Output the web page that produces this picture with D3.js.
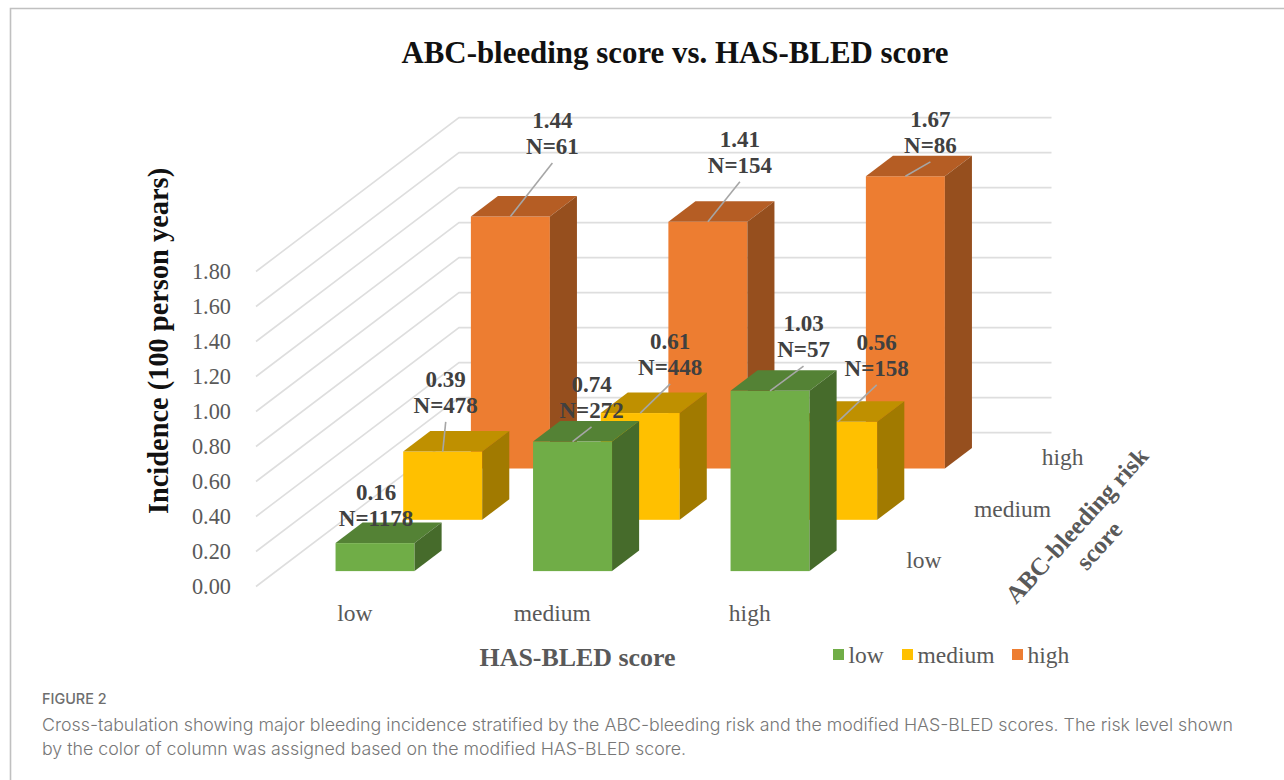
<!DOCTYPE html>
<html>
<head>
<meta charset="utf-8">
<script src="https://cdnjs.cloudflare.com/ajax/libs/d3/7.8.5/d3.min.js"></script>
<style>
  html, body { margin: 0; padding: 0; background: #fff; }
  svg { display: block; }
  text { font-family: "Liberation Serif", serif; }
  .caption { font-family: Inter, "Noto Sans", sans-serif; font-weight: 300; }
</style>
</head>
<body>
<svg id="chart" width="1284" height="780"></svg>
<script>
// HAS-BLED along the front, ABC-bleeding going back into the page
var hasBled = ["low", "medium", "high"];
var abcRisk = ["low", "medium", "high"];
var yTicks = [0, 0.2, 0.4, 0.6, 0.8, 1.0, 1.2, 1.4, 1.6, 1.8];

var lowValues = [0.16, 0.74, 1.03];
var mediumValues = [0.39, 0.61, 0.56];
var highValues = [1.44, 1.41, 1.67];

var lowCounts = [1178, 272, 57];
var mediumCounts = [478, 448, 158];
var highCounts = [61, 154, 86];

var valuesByRisk = { low: lowValues, medium: mediumValues, high: highValues };
var countsByRisk = { low: lowCounts, medium: mediumCounts, high: highCounts };

var faces = {
  low:    { front: "#70ad47", top: "#548235", side: "#466b2b" },
  medium: { front: "#ffc000", top: "#bf9000", side: "#a17a00" },
  high:   { front: "#ed7d31", top: "#b55d24", side: "#964f1e" }
};

// label nudges from the middle of the bar's top edge: dx, dy to 2nd baseline
var labelNudge = {
  low:    [[1, -17], [19, -24], [33.5, -34]],
  medium: [[3, -39], [30, -38.5], [39, -46.3]],
  high:   [[42, -62.7], [32, -49.2], [25, -23.7]]
};

var svg = d3.select("#chart");

// frame, open on the right
svg.append("path")
  .attr("d", "M10.5,780V8.5H1284")
  .attr("fill", "none")
  .attr("stroke", "#c0c0c0")
  .attr("stroke-width", 1.6);

var x = d3.scaleBand().domain(hasBled).range([256, 848.5]).paddingInner(0.6).paddingOuter(0.3);
var y = d3.scaleLinear().domain([0, 1.8]).range([586.5, 271.5]);

// oblique projection: depth runs 0..1 from the front edge to the back wall
var depth = d3.scaleBand().domain(abcRisk).range([0, 1]).paddingInner(0.6).paddingOuter(0.3);
var shiftX = d3.scaleLinear().domain([0, 1]).range([0, 203]);
var shiftY = d3.scaleLinear().domain([0, 1]).range([0, -153.9]);

// gridlines
var grid = svg.append("g").attr("fill", "none").attr("stroke", "#dedede").attr("stroke-width", 1.6);
yTicks.forEach(function(t) {
  grid.append("path")
    .attr("d", "M" + x.range()[0] + "," + y(t)
      + "L" + (x.range()[0] + shiftX(1)) + "," + (y(t) + shiftY(1))
      + "H" + (x.range()[1] + shiftX(1)));
});

// y ticks
svg.append("g").selectAll("text").data(yTicks).enter().append("text")
  .attr("x", 231)
  .attr("y", function(d) { return y(d) + 7.3; })
  .attr("text-anchor", "end")
  .attr("font-size", 22.3)
  .attr("fill", "#595959")
  .text(function(d) { return d.toFixed(2); });

// bars, back row first so the front ones cover them
var labels = [];
var bw = x.bandwidth();
var ox = shiftX(depth.bandwidth()), oy = shiftY(depth.bandwidth());

abcRisk.slice().reverse().forEach(function(risk) {
  var vals = valuesByRisk[risk];
  var c = faces[risk];
  var g = svg.append("g");

  hasBled.forEach(function(cat, i) {
    var x0 = x(cat) + shiftX(depth(risk));
    var base = y(0) + shiftY(depth(risk));
    var top = y(vals[i]) + shiftY(depth(risk));

    g.append("rect")
      .attr("x", x0).attr("y", top)
      .attr("width", bw).attr("height", base - top)
      .attr("fill", c.front);
    g.append("path")
      .attr("d", "M" + x0 + "," + top + "l" + ox + "," + oy + "h" + bw + "l" + (-ox) + "," + (-oy) + "z")
      .attr("fill", c.top);
    g.append("path")
      .attr("d", "M" + (x0 + bw) + "," + top + "l" + ox + "," + oy + "V" + (base + oy) + "L" + (x0 + bw) + "," + base + "z")
      .attr("fill", c.side);

    var nudge = labelNudge[risk][i];
    labels.push({
      cx: x0 + bw / 2, top: top,
      lx: x0 + bw / 2 + nudge[0], ly: top + nudge[1],
      value: vals[i], n: countsByRisk[risk][i], leader: !(risk == "low" && cat == "low")
    });
  });
});

// value labels with their leader lines
labels.forEach(function(l) {
  if (l.leader) {
    svg.append("line")
      .attr("x1", l.cx).attr("y1", l.top)
      .attr("x2", l.lx).attr("y2", l.ly + 9.3)
      .attr("stroke", "#a6a6a6").attr("stroke-width", 1.6);
  }
});
labels.forEach(function(l) {
  var t = svg.append("text")
    .attr("text-anchor", "middle")
    .attr("font-size", 23)
    .attr("font-weight", "bold")
    .attr("fill", "#404040");
  t.append("tspan").attr("x", l.lx).attr("y", l.ly - 25.7).text(l.value.toFixed(2));
  t.append("tspan").attr("x", l.lx).attr("y", l.ly).text("N=" + l.n);
});

// category labels along the front
svg.append("g").selectAll("text").data(hasBled).enter().append("text")
  .attr("x", function(d) { return x(d) + bw / 2; })
  .attr("y", 620.7)
  .attr("text-anchor", "middle")
  .attr("font-size", 23.5)
  .attr("fill", "#595959")
  .text(function(d) { return d; });

// depth labels along the right side
svg.append("g").selectAll("text").data(abcRisk).enter().append("text")
  .attr("x", function(d) { return x.range()[1] + shiftX(depth(d) + depth.bandwidth() / 2) + 24; })
  .attr("y", function(d) { return y(0) + shiftY(depth(d) + depth.bandwidth() / 2) + 7; })
  .attr("font-size", 23.5)
  .attr("fill", "#595959")
  .text(function(d) { return d; });

// titles
svg.append("text")
  .attr("x", 675).attr("y", 63)
  .attr("text-anchor", "middle")
  .attr("font-size", 30.9)
  .attr("font-weight", "bold")
  .attr("fill", "#111")
  .text("ABC-bleeding score vs. HAS-BLED score");

svg.append("text")
  .attr("transform", "translate(168,341) rotate(-90)")
  .attr("text-anchor", "middle")
  .attr("font-size", 28.4)
  .attr("font-weight", "bold")
  .attr("fill", "#111")
  .text("Incidence (100 person years)");

svg.append("text")
  .attr("x", 577.5).attr("y", 665.7)
  .attr("text-anchor", "middle")
  .attr("font-size", 25.9)
  .attr("font-weight", "bold")
  .attr("fill", "#595959")
  .text("HAS-BLED score");

var side = svg.append("text")
  .attr("transform", "translate(1083,531) rotate(-48)")
  .attr("text-anchor", "middle")
  .attr("font-size", 25)
  .attr("font-weight", "bold")
  .attr("fill", "#595959");
side.append("tspan").attr("x", 0).attr("y", 0).text("ABC-bleeding risk");
side.append("tspan").attr("x", 0).attr("y", 30).text("score");

// legend
var legendX = d3.scaleOrdinal().domain(abcRisk).range([833, 902, 1012]);
var legend = svg.append("g").selectAll("g").data(abcRisk).enter().append("g")
  .attr("transform", function(d) { return "translate(" + legendX(d) + ",649)"; });
legend.append("rect")
  .attr("width", 11).attr("height", 11)
  .attr("fill", function(d) { return faces[d].front; });
legend.append("text")
  .attr("x", 15.5).attr("y", 14)
  .attr("font-size", 23.5)
  .attr("fill", "#595959")
  .text(function(d) { return d; });

// caption
svg.append("text").attr("class", "caption")
  .attr("x", 42).attr("y", 704)
  .attr("font-size", 14.4)
  .attr("fill", "#6e6e6e")
  .style("font-weight", 500)
  .text("FIGURE 2");
svg.append("text").attr("class", "caption")
  .attr("x", 42).attr("y", 731)
  .attr("font-size", 17.8)
  .attr("fill", "#777")
  .text("Cross-tabulation showing major bleeding incidence stratified by the ABC-bleeding risk and the modified HAS-BLED scores. The risk level shown");
svg.append("text").attr("class", "caption")
  .attr("x", 42).attr("y", 755)
  .attr("font-size", 17.8)
  .attr("fill", "#777")
  .text("by the color of column was assigned based on the modified HAS-BLED score.");
</script>
</body>
</html>
